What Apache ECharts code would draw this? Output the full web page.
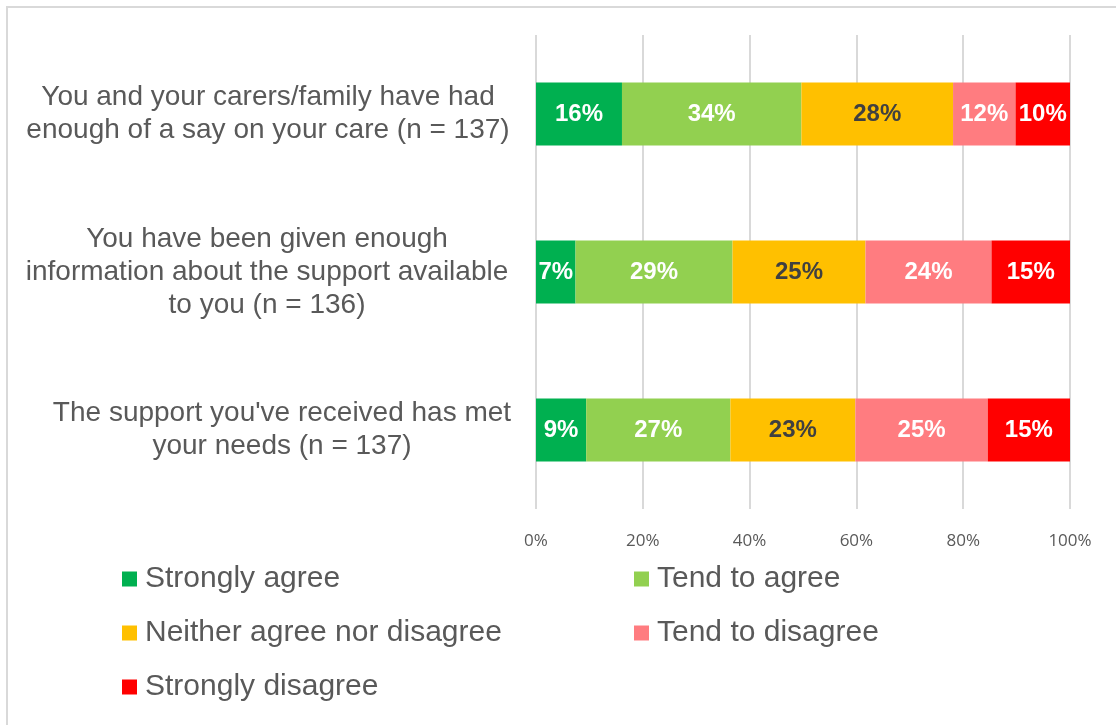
<!DOCTYPE html>
<html>
<head>
<meta charset="utf-8">
<script src="https://cdn.jsdelivr.net/npm/echarts@6/dist/echarts.min.js"></script>
<style>
  html, body { margin: 0; padding: 0; background: #ffffff; }
  #chart { width: 1116px; height: 725px; }
</style>
</head>
<body>
<div id="chart"></div>
<script>
// Survey statements (top to bottom)
const categories = [
  'You and your carers/family have had\nenough of a say on your care (n = 137)',
  'You have been given enough\ninformation about the support available\nto you (n = 136)',
  "The support you've received has met\nyour needs (n = 137)"
];

// Response options
const responses = ['Strongly agree', 'Tend to agree', 'Neither agree nor disagree', 'Tend to disagree', 'Strongly disagree'];

// Share of respondents (%) for each statement, per response option
const stronglyAgree    = [16.1, 7.4, 9.4];
const tendToAgree      = [33.6, 29.4, 27.0];
const neither          = [28.4, 24.9, 23.4];
const tendToDisagree   = [11.7, 23.6, 24.8];
const stronglyDisagree = [10.2, 14.7, 15.4];

// Axis ticks
const xTicks = { min: 0, max: 100, interval: 20 };

const seriesValues = [stronglyAgree, tendToAgree, neither, tendToDisagree, stronglyDisagree];
const colors = ['#00B050', '#92D050', '#FFC000', '#FF7C80', '#FF0000'];
const labelColors = ['#ffffff', '#ffffff', '#404040', '#ffffff', '#ffffff'];

const textGrey = '#595959';
const labelFont = 'Liberation Sans, Arial, sans-serif';

// Each statement is a centred block of lines, right-aligned against the plot
const blockWidths = [490, 492, 462];
const rich = {};
blockWidths.forEach((w, i) => {
  rich['b' + i] = {
    width: w, align: 'center', fontSize: 28, lineHeight: 33,
    color: textGrey, fontFamily: labelFont
  };
});

const chart = echarts.init(document.getElementById('chart'), null, { renderer: 'canvas' });

// One legend block per entry, laid out in two columns
const legendSlots = [
  { left: 122, top: 564 },
  { left: 634, top: 564 },
  { left: 122, top: 618 },
  { left: 634, top: 618 },
  { left: 122, top: 672 }
];

const option = {
  animation: false,
  backgroundColor: '#ffffff',
  grid: { left: 536, right: 46, top: 35, bottom: 216, containLabel: false },
  legend: responses.map((name, i) => ({
    data: [name],
    left: legendSlots[i].left,
    top: legendSlots[i].top,
    padding: 0,
    icon: 'rect',
    itemWidth: 15,
    itemHeight: 15,
    itemGap: 0,
    selectedMode: false,
    textStyle: { fontSize: 30, color: textGrey, fontFamily: labelFont, padding: [0, 0, 0, 3] }
  })),
  xAxis: {
    type: 'value',
    min: xTicks.min,
    max: xTicks.max,
    interval: xTicks.interval,
    axisLine: { show: false },
    axisTick: { show: false },
    axisLabel: {
      formatter: '{value}%',
      fontSize: 17,
      color: textGrey,
      fontFamily: 'Open Sans, Liberation Sans, sans-serif',
      margin: 24
    },
    splitLine: { show: true, lineStyle: { color: '#d9d9d9', width: 2 } }
  },
  yAxis: {
    type: 'category',
    data: categories,
    inverse: true,
    axisLine: { show: false },
    axisTick: { show: false },
    axisLabel: {
      margin: 23,
      formatter: (value, idx) => value.split('\n').map(line => '{b' + idx + '|' + line + '}').join('\n'),
      rich: rich
    }
  },
  graphic: [{
    type: 'polyline',
    shape: { points: [[7, 730], [7, 7], [1120, 7]] },
    style: { stroke: '#d9d9d9', lineWidth: 2, fill: null },
    silent: true
  }],
  series: responses.map((name, i) => ({
    name: name,
    type: 'bar',
    stack: 'total',
    barWidth: 63,
    data: seriesValues[i],
    itemStyle: { color: colors[i] },
    emphasis: { disabled: true },
    label: {
      show: true,
      position: 'inside',
      formatter: p => Math.round(p.value) + '%',
      color: labelColors[i],
      fontSize: 24,
      fontWeight: 'bold',
      fontFamily: labelFont
    }
  }))
};

chart.setOption(option);
</script>
</body>
</html>
